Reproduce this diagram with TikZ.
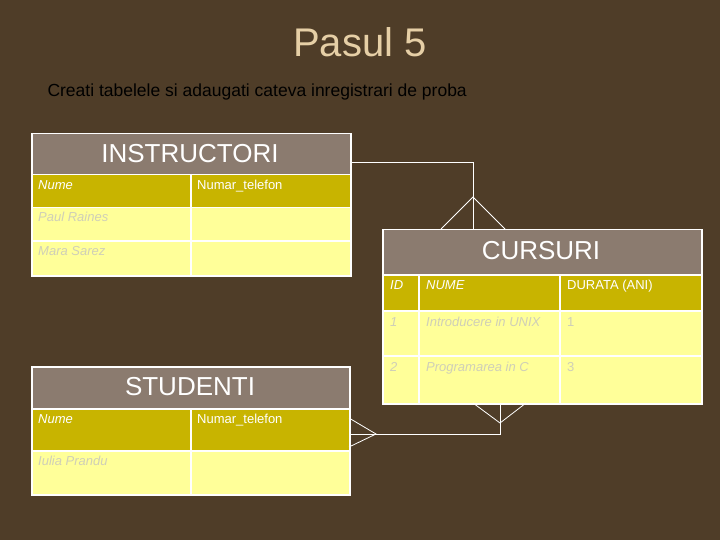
\documentclass[tikz,border=0pt]{standalone}
\usepackage{fontspec}
\setmainfont{Liberation Sans}
\definecolor{bg}{HTML}{4F3D28}
\definecolor{hdr}{HTML}{8B7B6F}
\definecolor{gold}{HTML}{C8B400}
\definecolor{pale}{HTML}{FFFF99}
\definecolor{ttl}{HTML}{E6CFA6}
\definecolor{faint}{HTML}{CFCFB8}
\tikzset{
 cell/.style={draw=white,line width=1.5pt,inner sep=0pt,anchor=north west},
 hcell/.style={cell,fill=hdr},
 gcell/.style={cell,fill=gold},
 pcell/.style={cell,fill=pale},
 htext/.style={text=white,font=\fontsize{26}{28}\selectfont},
 ctext/.style={anchor=north west,inner sep=0pt,font=\fontsize{13}{15}\selectfont},
 link/.style={draw=white,line width=0.8pt}
}
\begin{document}
\begin{tikzpicture}[x=1pt,y=-1pt]
\fill[bg] (0,0) rectangle (720,540);
\useasboundingbox (0,0) rectangle (720,540);
\node[text=ttl,font=\fontsize{40}{42}\selectfont] (title) at (360,42) {Pasul 5};
\node[anchor=west,font=\fontsize{17.5}{19}\selectfont,text=black] (sub) at (44,92) {Creati tabelele si adaugati cateva inregistrari de proba};
% connectors (behind tables)
\coordinate (a1) at (473,162);
\coordinate (a2) at (473,197);
\coordinate (b1) at (500,434);
\coordinate (b2) at (500,423);
\coordinate (b3) at (376,434);
% INSTRUCTORI
\node[hcell,minimum width=319,minimum height=41] (ih) at (31,133) {};
\node[htext] (iht) at (190,154) {INSTRUCTORI};
\node[gcell,minimum width=159,minimum height=33] (i11) at (31,174) {};
\node[gcell,minimum width=160,minimum height=33] (i12) at (190,174) {};
\node[pcell,minimum width=159,minimum height=33] (i21) at (31,207) {};
\node[pcell,minimum width=160,minimum height=33] (i22) at (190,207) {};
\node[pcell,minimum width=159,minimum height=35] (i31) at (31,240) {};
\node[pcell,minimum width=160,minimum height=35] (i32) at (190,240) {};
\node[ctext,text=white] (t1) at (38,180) {\itshape Nume};
\node[ctext,text=white] (t2) at (197,180) {Numar\_telefon};
\node[ctext,text=faint] (t3) at (38,212) {\itshape Paul Raines};
\node[ctext,text=faint] (t4) at (38,246) {\itshape Mara Sarez};
% STUDENTI
\node[hcell,minimum width=318,minimum height=42] (sh) at (31,366) {};
\node[htext] (sht) at (190,387) {STUDENTI};
\node[gcell,minimum width=159,minimum height=42] (s11) at (31,408) {};
\node[gcell,minimum width=159,minimum height=42] (s12) at (190,408) {};
\node[pcell,minimum width=159,minimum height=44] (s21) at (31,450) {};
\node[pcell,minimum width=159,minimum height=44] (s22) at (190,450) {};
\node[ctext,text=white] (u1) at (38,414) {\itshape Nume};
\node[ctext,text=white] (u2) at (197,414) {Numar\_telefon};
\node[ctext,text=faint] (u3) at (38,456) {\itshape Iulia Prandu};
% CURSURI
\node[hcell,minimum width=319,minimum height=45] (ch) at (382,229) {};
\node[htext] (cht) at (541,251) {CURSURI};
\node[gcell,minimum width=36,minimum height=36] (c11) at (382,274) {};
\node[gcell,minimum width=141,minimum height=36] (c12) at (418,274) {};
\node[gcell,minimum width=142,minimum height=36] (c13) at (559,274) {};
\node[pcell,minimum width=36,minimum height=45] (c21) at (382,310) {};
\node[pcell,minimum width=141,minimum height=45] (c22) at (418,310) {};
\node[pcell,minimum width=142,minimum height=45] (c23) at (559,310) {};
\node[pcell,minimum width=36,minimum height=48] (c31) at (382,355) {};
\node[pcell,minimum width=141,minimum height=48] (c32) at (418,355) {};
\node[pcell,minimum width=142,minimum height=48] (c33) at (559,355) {};
\node[ctext,text=white] (v1) at (390,280) {\itshape ID};
\node[ctext,text=white] (v2) at (426,280) {\itshape NUME};
\node[ctext,text=white] (v3) at (567,280) {DURATA (ANI)};
\node[ctext,text=faint] (v4) at (390,317) {\itshape 1};
\node[ctext,text=faint] (v5) at (426,317) {\itshape Introducere in UNIX};
\node[ctext,text=faint] (v6) at (567,317) {1};
\node[ctext,text=faint] (v7) at (390,362) {\itshape 2};
\node[ctext,text=faint] (v8) at (426,362) {\itshape Programarea in C};
\node[ctext,text=faint] (v9) at (567,362) {3};
\draw[link] (ih.east |- a1) -- (a1) -- (a1 |- ch.north);
\draw[link] (441,229) -- (a2) -- (505,229);
\draw[link] (c32.south -| b1) -- (b1) -- (s12.east |- b1);
\draw[link] (473,403) -- (b2) -- (526,403);
\draw[link] (349,418) -- (b3) -- (349,447);
\end{tikzpicture}
\end{document}
